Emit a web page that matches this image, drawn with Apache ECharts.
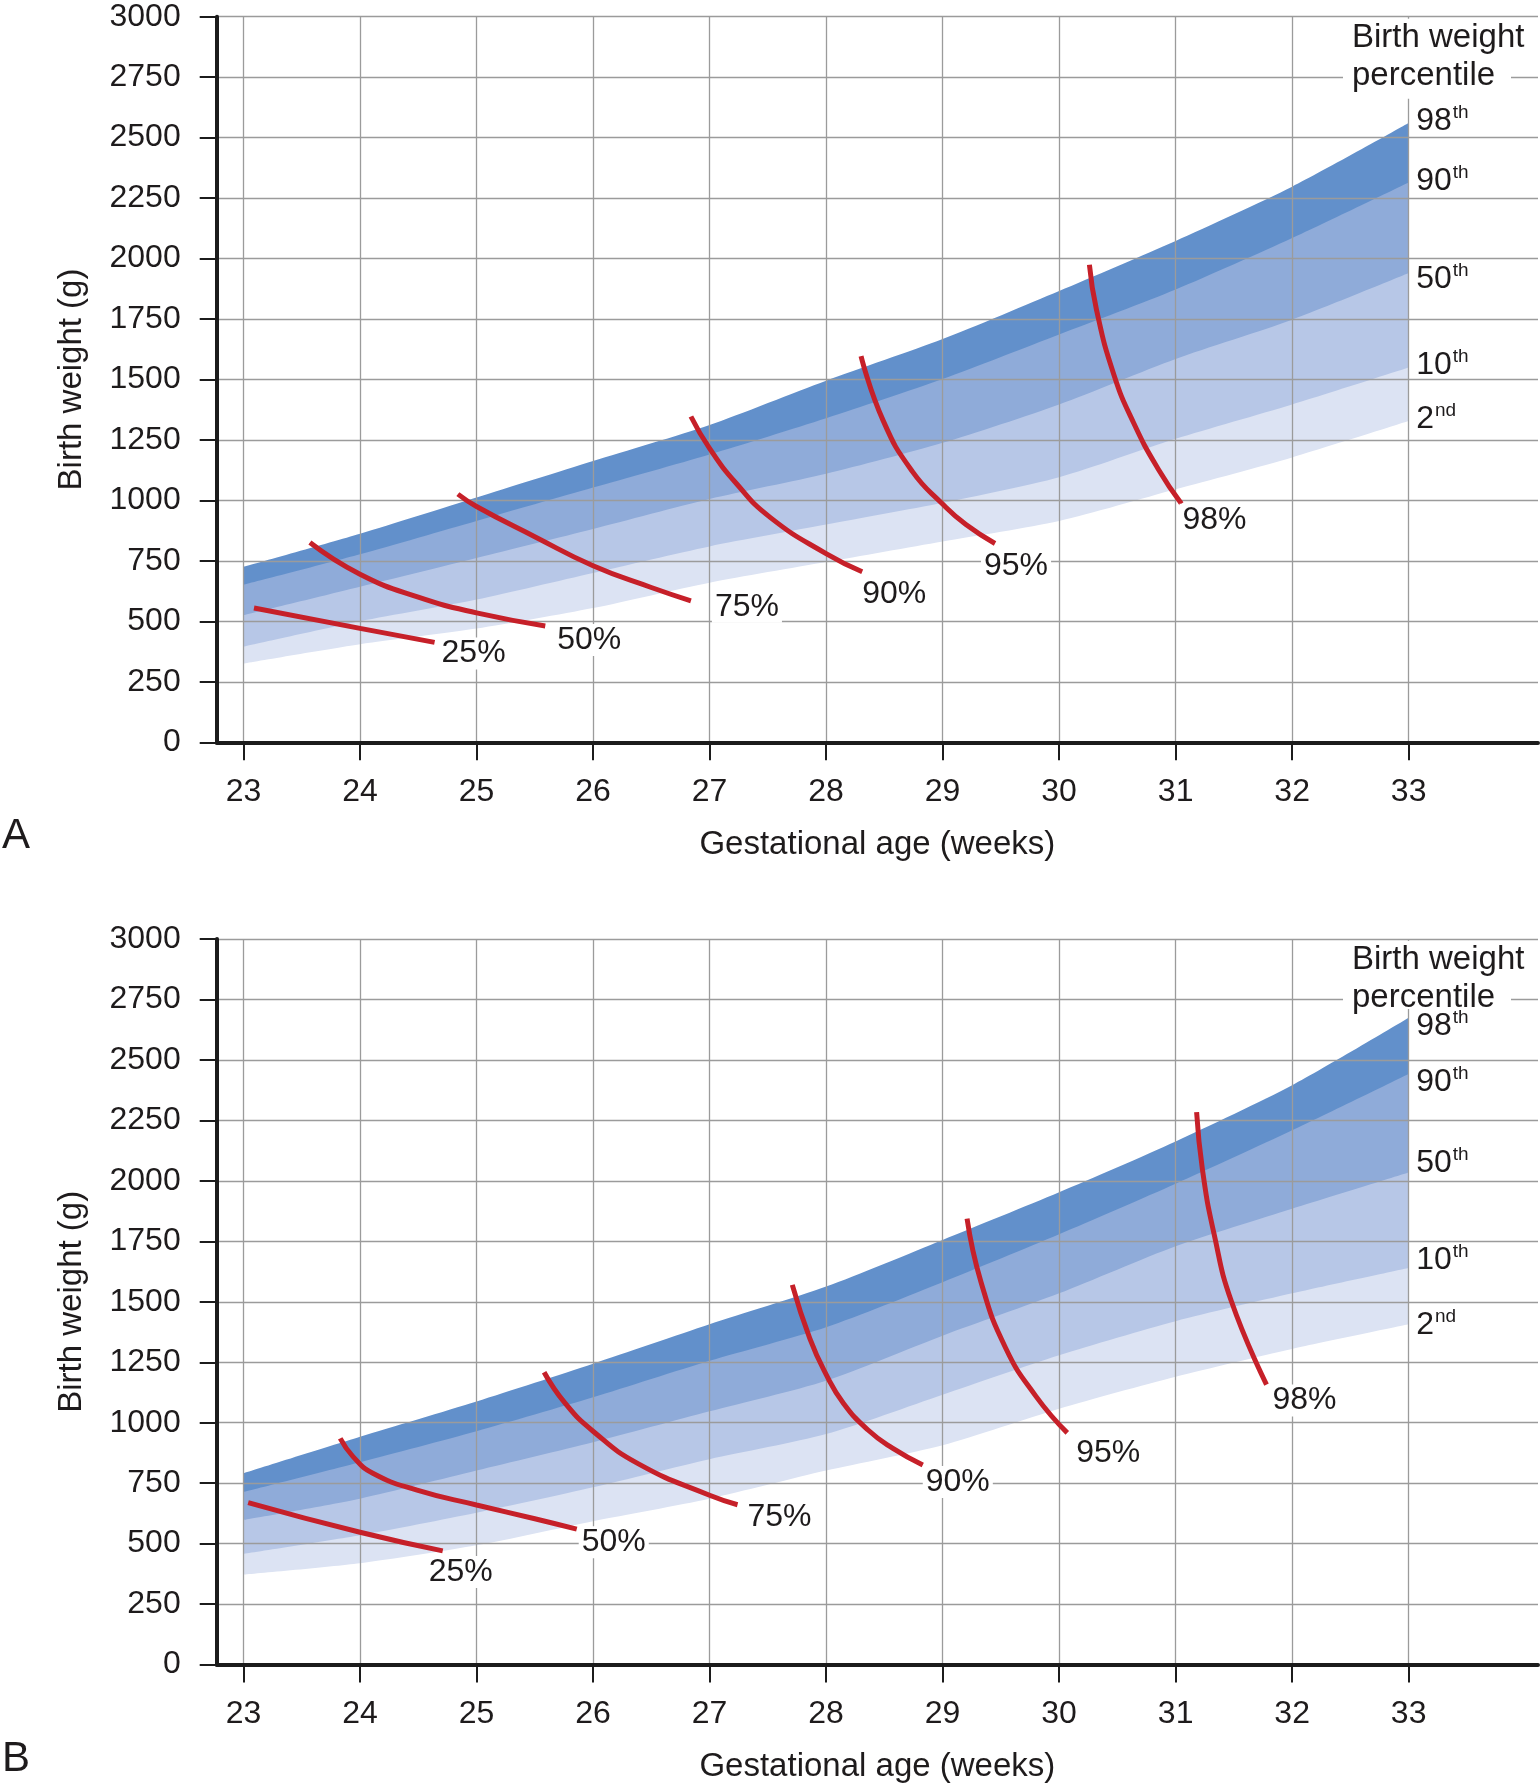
<!DOCTYPE html>
<html><head><meta charset="utf-8">
<script src="https://cdn.jsdelivr.net/npm/echarts@6/dist/echarts.min.js"></script>
<style>html,body{margin:0;padding:0;background:#fff}#c{width:1540px;height:1783px}</style>
</head><body><div id="c"></div>
<script>
// ---------- shared ----------
const weeks = [23, 24, 25, 26, 27, 28, 29, 30, 31, 32, 33];
const xTickLabels = [23, 24, 25, 26, 27, 28, 29, 30, 31, 32, 33];
const yTickLabels = [0, 250, 500, 750, 1000, 1250, 1500, 1750, 2000, 2250, 2500, 2750, 3000];
const percentileNames = ['98', '90', '50', '10', '2'];
const percentileSuffix = ['th', 'th', 'th', 'th', 'nd'];
const survivalNames = ['25%', '50%', '75%', '90%', '95%', '98%'];

// ---------- Panel A: birth weight percentiles (g) ----------
const A_p98 = [725, 862, 1012, 1163, 1312, 1495, 1667, 1866, 2073, 2297, 2560];
const A_p90 = [651, 777, 915, 1053, 1190, 1340, 1502, 1686, 1872, 2085, 2315];
const A_p50 = [525, 643, 762, 882, 1006, 1110, 1238, 1397, 1585, 1747, 1940];
const A_p10 = [395, 500, 590, 700, 810, 900, 990, 1096, 1255, 1397, 1550];
const A_p2  = [325, 405, 470, 555, 660, 745, 830, 915, 1046, 1178, 1328];
// Panel A: survival isolines [week, grams]
const A_s25 = [[23.09, 555], [24.0, 471], [24.64, 413]];
const A_s50 = [[23.57, 826], [24.0, 695], [24.5, 600], [25.0, 535], [25.59, 481]];
const A_s75 = [[24.84, 1026], [25.0, 975], [25.5, 850], [26.0, 730], [26.5, 640], [26.84, 585]];
const A_s90 = [[26.84, 1347], [27.0, 1215], [27.23, 1070], [27.52, 930], [28.0, 780], [28.31, 705]];
const A_s95 = [[28.30, 1597], [28.49, 1330], [28.74, 1120], [29.0, 985], [29.2, 900], [29.45, 822]];
const A_s98 = [[30.26, 1974], [30.32, 1790], [30.47, 1520], [30.64, 1320], [30.85, 1130], [31.05, 986]];

// ---------- Panel B ----------
const B_p98 = [791, 942, 1088, 1244, 1407, 1563, 1756, 1953, 2163, 2395, 2674];
const B_p90 = [714, 837, 965, 1105, 1256, 1395, 1581, 1779, 1988, 2209, 2442];
const B_p50 = [598, 686, 802, 919, 1047, 1174, 1360, 1535, 1730, 1885, 2035];
const B_p10 = [458, 535, 628, 733, 849, 953, 1116, 1279, 1420, 1535, 1640];
const B_p2  = [372, 419, 493, 593, 686, 802, 907, 1058, 1190, 1305, 1407];
const B_s25 = [[23.04, 670], [24.0, 547], [24.71, 470]];
const B_s50 = [[23.83, 935], [23.94, 860], [24.11, 791], [24.49, 721], [25.0, 660], [25.5, 603], [25.86, 560]];
const B_s75 = [[25.58, 1209], [25.76, 1081], [26.0, 965], [26.39, 830], [27.0, 700], [27.24, 661]];
const B_s90 = [[27.71, 1570], [27.86, 1349], [28.0, 1200], [28.15, 1080], [28.36, 970], [28.57, 895], [28.83, 825]];
const B_s95 = [[29.21, 1844], [29.33, 1581], [29.54, 1310], [29.80, 1110], [30.07, 958]];
const B_s98 = [[31.18, 2284], [31.23, 2047], [31.33, 1780], [31.48, 1500], [31.78, 1158]];

// ---------- styling (not data) ----------
const FONT = '"Liberation Sans", Arial, Helvetica, sans-serif';
const TXT = '#1e1b1c';
const bandColors = ['#6290cb', '#8fabd9', '#b7c7e7', '#dce3f3', '#ffffff'];
const RED = '#c62029';
const GRID_COLOR = '#9b9b9b';

const panels = [
  {
    top: 16.7, boxH: 80, bands: [A_p98, A_p90, A_p50, A_p10, A_p2],
    curves: [A_s25, A_s50, A_s75, A_s90, A_s95, A_s98],
    curveLabelOffsets: [[39, 11], [44, 14], [56, 6], [32, 22], [21, 23], [33, 16]],
    pctLabelOffsets: [-3, -2, 5, -3, -3]
  },
  {
    top: 939, boxH: 68, bands: [B_p98, B_p90, B_p50, B_p10, B_p2],
    curves: [B_s25, B_s50, B_s75, B_s90, B_s95, B_s98],
    curveLabelOffsets: [[18, 21], [37, 13], [42, 12], [35, 17], [41, 20], [38, 16]],
    pctLabelOffsets: [7, 7, -10, -9, 0]
  }
];

const grid = [], xAxis = [], yAxis = [], series = [], graphic = [];
panels.forEach((p, gi) => {
  grid.push({ left: 216.7, top: p.top, width: 1321.3, height: 725.6, containLabel: false, outerBoundsMode: 'none' });
  xAxis.push({
    type: 'value', gridIndex: gi, min: 22.77, max: 34.11, z: 3,
    name: 'Gestational age (weeks)', nameLocation: 'middle', nameGap: 86,
    nameTextStyle: { fontSize: 33, color: TXT, fontFamily: FONT },
    axisLine: { show: true, onZero: false, lineStyle: { color: '#1c1c1c', width: 4 } },
    axisTick: { show: true, customValues: xTickLabels, length: 18, inside: false, lineStyle: { color: '#1c1c1c', width: 2 } },
    axisLabel: { customValues: xTickLabels, margin: 34, fontSize: 32, color: TXT, fontFamily: FONT, formatter: v => String(v) },
    splitLine: { show: true, lineStyle: { color: GRID_COLOR, width: 1.3 } }
  });
  yAxis.push({
    type: 'value', gridIndex: gi, min: 0, max: 3000, interval: 250, z: 3,
    name: 'Birth weight (g)', nameLocation: 'middle', nameGap: 128, nameRotate: 90,
    nameTextStyle: { fontSize: 33, color: TXT, fontFamily: FONT },
    axisLine: { show: true, onZero: false, lineStyle: { color: '#1c1c1c', width: 4 } },
    axisTick: { show: true, length: 17, lineStyle: { color: '#1c1c1c', width: 2 } },
    axisLabel: { customValues: yTickLabels, margin: 36, fontSize: 32, color: TXT, fontFamily: FONT, formatter: v => String(v) },
    splitLine: { show: true, lineStyle: { color: GRID_COLOR, width: 1.3 } }
  });
  // bands (opaque, drawn high -> low)
  p.bands.forEach((arr, bi) => {
    series.push({
      type: 'line', xAxisIndex: gi, yAxisIndex: gi, z: 2, silent: true,
      data: weeks.map((w, i) => [w, arr[i]]),
      symbol: 'none', smooth: 0.25,
      lineStyle: { width: 0, opacity: 0 },
      areaStyle: { color: bandColors[bi], opacity: 1, origin: 'start' }
    });
  });
  // percentile labels at week 33
  series.push({
    type: 'scatter', xAxisIndex: gi, yAxisIndex: gi, z: 30, silent: true,
    symbolSize: 1, itemStyle: { color: 'rgba(0,0,0,0)', opacity: 1 },
    data: p.bands.map((arr, bi) => ({
      value: [weeks[weeks.length - 1], arr[arr.length - 1]],
      label: {
        show: true, position: 'right', distance: 7, offset: [0, p.pctLabelOffsets[bi]],
        opacity: 1, textBorderWidth: 0,
        formatter: '{n|' + percentileNames[bi] + '}{s|' + percentileSuffix[bi] + '}',
        rich: {
          n: { fontSize: 32, color: TXT, fontFamily: FONT, lineHeight: 34, verticalAlign: 'bottom' },
          s: { fontSize: 19, color: TXT, fontFamily: FONT, lineHeight: 34, verticalAlign: 'top', padding: [0, 0, 0, 1] }
        }
      }
    }))
  });
  // survival isolines
  p.curves.forEach((c) => {
    series.push({
      type: 'line', xAxisIndex: gi, yAxisIndex: gi, z: 6, silent: true,
      data: c, symbol: 'none', smooth: 0.5,
      lineStyle: { color: RED, width: 5, cap: 'butt' }
    });
  });
  series.push({
    type: 'scatter', xAxisIndex: gi, yAxisIndex: gi, z: 9, silent: true,
    symbolSize: 1, itemStyle: { color: 'rgba(0,0,0,0)', opacity: 1 },
    data: p.curves.map((c, ci) => ({
      value: c[c.length - 1],
      label: {
        show: true, position: 'inside', offset: p.curveLabelOffsets[ci],
        opacity: 1, textBorderWidth: 0,
        formatter: survivalNames[ci], fontSize: 32, color: TXT, fontFamily: FONT,
        backgroundColor: '#ffffff', padding: [0, 3, 0, 3]
      }
    }))
  });
  // legend heading box
  graphic.push({
    type: 'rect', z: 20, silent: true,
    shape: { x: 1343, y: p.top + 2, width: 168, height: p.boxH },
    style: { fill: '#ffffff' }
  });
  graphic.push({
    type: 'text', z: 21, silent: true, x: 1352, y: p.top + 2,
    style: { text: 'Birth weight\npercentile', font: '33px ' + FONT, fill: TXT, lineHeight: 38, textAlign: 'left', textVerticalAlign: 'top' }
  });
  graphic.push({
    type: 'text', z: 21, silent: true, x: 2, y: p.top + 820,
    style: { text: gi === 0 ? 'A' : 'B', font: '42px ' + FONT, fill: TXT, textAlign: 'left', textVerticalAlign: 'middle' }
  });
});

const chart = echarts.init(document.getElementById('c'), null, { renderer: 'canvas' });
chart.setOption({
  animation: false,
  backgroundColor: '#ffffff',
  grid, xAxis, yAxis, series, graphic
});
</script>
</body></html>
